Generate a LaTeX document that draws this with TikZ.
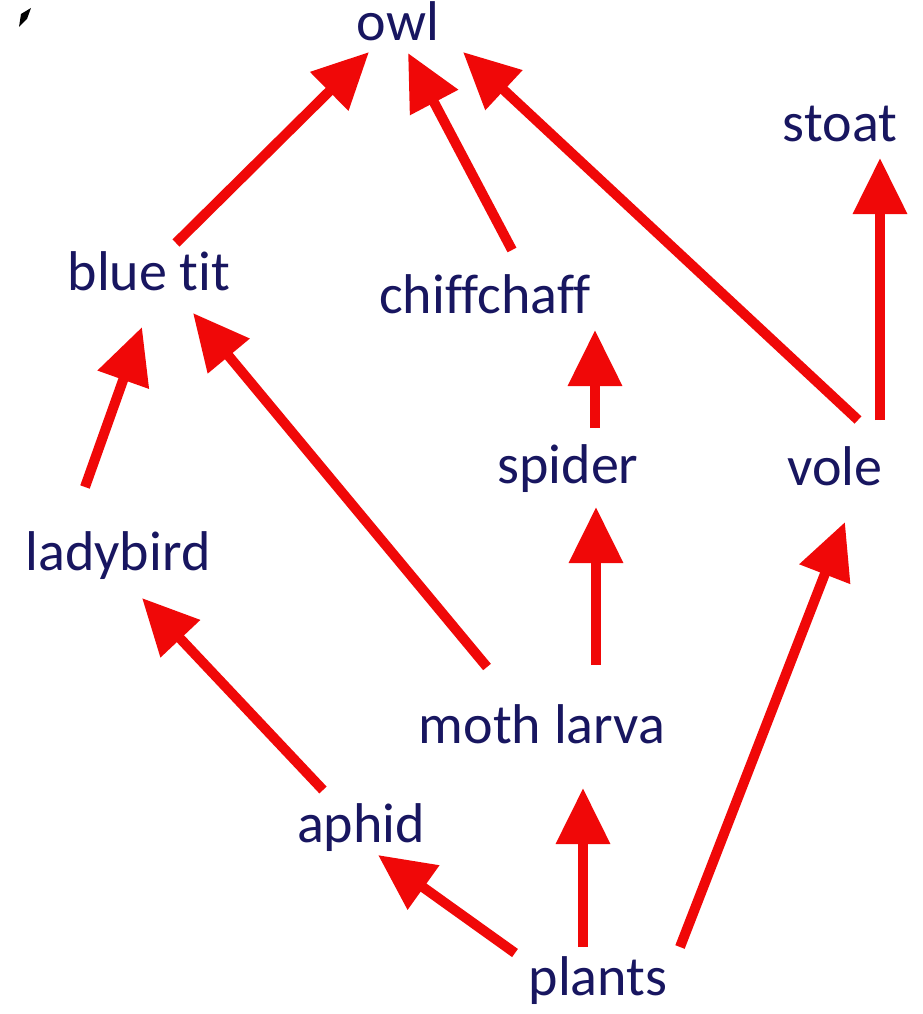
\documentclass[tikz,border=0pt]{standalone}
\usepackage{fontspec}
\setmainfont[Ligatures=NoCommon]{Carlito}
\usetikzlibrary{arrows.meta,calc}
\definecolor{navy}{RGB}{24,22,96}
\definecolor{arrred}{RGB}{240,8,8}
\tikzset{
  lbl/.style={anchor=base, inner sep=0pt, text=navy, font=\fontsize{56}{67}\selectfont},
  arr/.style={draw=arrred, line width=10pt, line cap=butt,
    -{Triangle[length=56pt, width=52pt]}, fill=arrred}
}
\begin{document}
\begin{tikzpicture}[x=1pt,y=-1pt]
\useasboundingbox (0,0) rectangle (923,1014);
\fill[white] (0,0) rectangle (923,1014);
% small black mark at top-left (cropped artefact)
\fill[black] (19,27) -- (21,14) -- (31,8) -- (27,19) -- cycle;

\node[lbl] (owl) at (398,41) {owl};
\node[lbl] (stoat) at (840,142) {stoat};
\node[lbl] (bluetit) at (149,290) {blue tit};
\node[lbl] (chiff) at (485,313) {chiffchaff};
\node[lbl] (spider) at (568,483) {spider};
\node[lbl] (vole) at (835,485) {vole};
\node[lbl] (ladybird) at (118,570) {ladybird};
\node[lbl] (moth) at (542,743) {moth larva};
\node[lbl] (aphid) at (361,842) {aphid};
\node[lbl] (plants) at (598,995) {plants};

\draw[arr] ($(bluetit.base)+(27,-47)$) -- ($(owl.base)+(-29,11)$);
\draw[arr] ($(chiff.base)+(27,-63)$) -- ($(owl.base)+(10,12)$);
\draw[arr] ($(vole.base)+(23,-65)$) -- ($(owl.base)+(65,11)$);
\draw[arr] ($(vole.base)+(45,-65)$) -- ($(stoat.base)+(40,16)$);
\draw[arr] ($(ladybird.base)+(-33,-83)$) -- ($(bluetit.base)+(-7,37)$);
\draw[arr] ($(moth.base)+(-55,-76)$) -- ($(bluetit.base)+(44,23)$);
\draw[arr] ($(spider.base)+(27,-55)$) -- ($(chiff.base)+(110,17)$);
\draw[arr] ($(moth.base)+(54,-78)$) -- ($(spider.base)+(28,24)$);
\draw[arr] ($(aphid.base)+(-38,-52)$) -- ($(ladybird.base)+(24,28)$);
\draw[arr] ($(plants.base)+(-83,-42)$) -- ($(aphid.base)+(17,13)$);
\draw[arr] ($(plants.base)+(-15,-48)$) -- ($(moth.base)+(41,45)$);
\draw[arr] ($(plants.base)+(82,-48)$) -- ($(vole.base)+(10,37)$);
\end{tikzpicture}
\end{document}
